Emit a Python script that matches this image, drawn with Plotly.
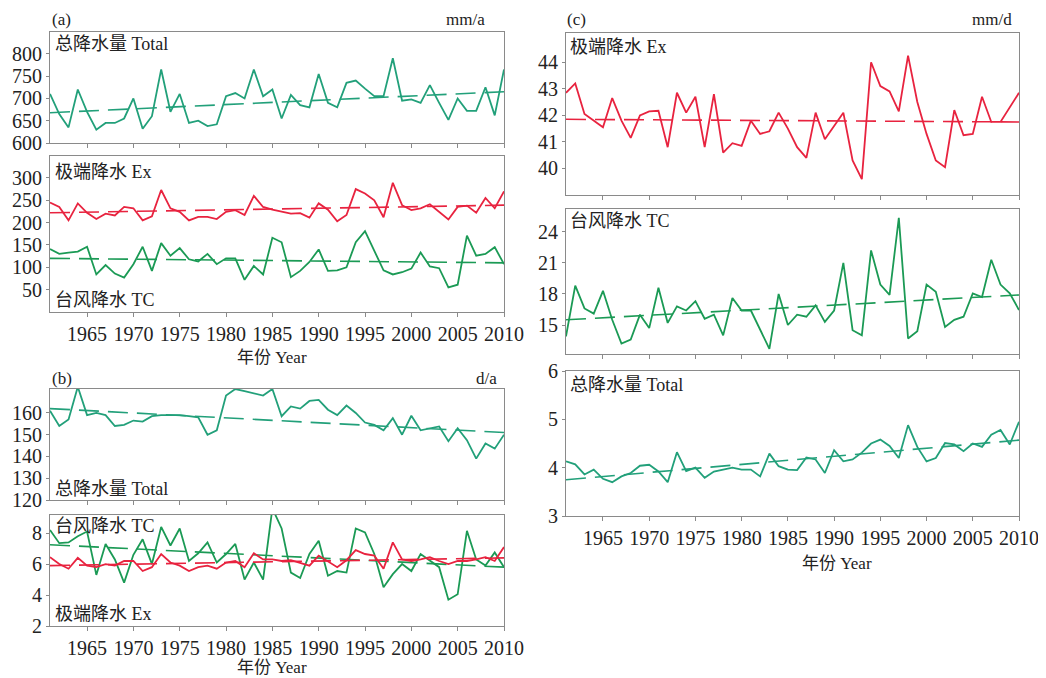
import plotly.graph_objects as go

years = list(range(1961, 2011))

# (a) precipitation amount, mm/a
a_total = [710, 665, 635, 720, 670, 630, 645, 645, 655, 700,
           632, 660, 765, 670, 710, 645, 650, 638, 642, 705,
           712, 700, 765, 705, 720, 655, 708, 685, 680, 755,
           690, 680, 735, 740, 722, 705, 705, 790, 695, 698,
           690, 730, 690, 652, 700, 672, 672, 725, 662, 765]
a_ex = [245, 235, 205, 243, 222, 208, 220, 216, 235, 232,
        205, 214, 273, 232, 224, 205, 213, 213, 208, 224,
        228, 217, 260, 235, 229, 224, 220, 221, 211, 243,
        229, 203, 217, 275, 265, 250, 212, 289, 239, 228,
        232, 241, 224, 207, 235, 238, 222, 255, 232, 270]
a_tc = [141, 130, 133, 135, 146, 84, 105, 86, 77, 107,
        146, 92, 154, 126, 143, 118, 113, 130, 107, 120,
        120, 72, 103, 84, 166, 156, 78, 92, 112, 140,
        92, 93, 100, 156, 181, 137, 93, 84, 89, 97,
        133, 102, 98, 55, 61, 171, 126, 130, 145, 107]
a_total_trend = [668, 715]
a_ex_trend = [222, 239]
a_tc_trend = [120, 110]

# (b) precipitation days, d/a
b_total = [161, 154, 157, 172, 159, 160, 159, 154, 154.5, 156.5,
           156, 158.5, 159, 159, 159, 158.5, 158, 150, 152, 168,
           171, 170, 169, 168, 171, 158.5, 163, 162, 165.5, 166,
           161.5, 159, 163.4, 160, 155.6, 154.5, 152, 157.6, 150, 158.7,
           152, 153, 153.8, 147, 153, 147.5, 139, 146, 143.6, 150]
b_tc = [8.2, 7.35, 7.4, 7.8, 8.1, 5.3, 7.3, 6.3, 4.8, 6.6,
        7.6, 6.0, 8.4, 7.2, 8.3, 6.2, 6.7, 7.4, 6.1, 6.65,
        7.3, 5.0, 6.1, 5.0, 9.6, 8.3, 5.45, 5.1, 6.65, 7.5,
        5.25, 5.55, 5.45, 8.3, 8.05, 6.65, 4.5, 5.35, 6.0, 5.55,
        6.65, 6.2, 5.8, 3.7, 4.05, 8.15, 6.3, 5.9, 6.75, 5.8]
b_ex = [6.45, 6.0, 5.7, 6.4, 5.9, 5.8, 6.0, 5.9, 6.2, 6.2,
        5.55, 5.8, 6.65, 6.1, 5.9, 5.55, 5.8, 5.9, 5.7, 6.1,
        6.2, 5.8, 6.7, 6.3, 6.3, 6.2, 6.25, 6.1, 5.9, 6.55,
        6.2, 5.8, 6.25, 6.9, 6.65, 6.55, 5.7, 7.4, 6.3, 6.2,
        6.3, 6.45, 6.2, 6.0, 6.2, 6.2, 6.3, 6.45, 6.2, 7.1]
b_total_trend = [162, 151]
b_tc_trend = [7.25, 5.8]
b_ex_trend = [5.9, 6.4]

# (c) precipitation intensity, mm/d
c_ex = [42.85, 43.2, 42.05, 41.8, 41.55, 42.65, 41.8, 41.15, 42.0, 42.15,
        42.17, 40.8, 42.85, 42.1, 42.7, 40.8, 42.8, 40.6, 40.95, 40.85,
        41.8, 41.3, 41.4, 42.1, 41.5, 40.8, 40.4, 42.1, 41.1, 41.6,
        42.1, 40.3, 39.6, 44.0, 43.1, 42.9, 42.15, 44.25, 42.5, 41.3,
        40.3, 40.05, 42.2, 41.25, 41.3, 42.7, 41.75, 41.75, 42.3, 42.85]
c_tc = [13.9, 18.8, 16.6, 16.1, 18.3, 15.5, 13.2, 13.6, 16.0, 14.7,
        18.6, 15.2, 16.8, 16.4, 17.3, 15.6, 16.0, 14.0, 17.6, 16.4,
        16.4, 14.5, 12.7, 18.0, 15.0, 16.0, 15.8, 16.9, 15.3, 16.4,
        21.0, 14.5, 14.0, 22.2, 18.9, 17.9, 25.35, 13.7, 14.4, 18.9,
        18.2, 14.8, 15.5, 15.8, 18.05, 17.7, 21.3, 18.9, 18.05, 16.45]
c_total = [4.13, 4.07, 3.86, 3.96, 3.77, 3.70, 3.82, 3.89, 4.04, 4.06,
           3.92, 3.70, 4.32, 3.93, 4.0, 3.79, 3.92, 3.96, 4.0, 3.96,
           3.96, 3.82, 4.29, 4.03, 3.96, 3.95, 4.21, 4.17, 3.89, 4.36,
           4.13, 4.17, 4.31, 4.5, 4.58, 4.45, 4.2, 4.88, 4.43, 4.13,
           4.2, 4.51, 4.48, 4.34, 4.5, 4.43, 4.68, 4.78, 4.48, 4.95]
c_ex_trend = [41.85, 41.75]
c_tc_trend = [15.5, 17.9]
c_total_trend = [3.75, 4.57]

x_ticks = [1965, 1970, 1975, 1980, 1985, 1990, 1995, 2000, 2005, 2010]

# the page body adds an 8px offset; size the figure so it fills the window
OFF = 8
W, H = 1046 - OFF, 678 - OFF
FONT = "Liberation Serif, 'Noto Sans CJK SC', serif"
TXT = "#222222"
GREEN_T = "#22a07a"
GREEN_C = "#1b9a55"
RED = "#e8233f"
FRAME = "#8a8a8a"


def px(x):
    return (x - OFF) / W


def py(y):
    return 1 - (y - OFF) / H


fig = go.Figure()

# panel definitions: (xdom px, ydom px, yrange, ytickvals, show x labels)
panels = [
    ((50, 504), (32, 143), [600, 849], [600, 650, 700, 750, 800], False),
    ((50, 504), (156, 312), [0, 349], [50, 100, 150, 200, 250, 300], True),
    ((50, 504), (389, 500), [120, 171], [120, 130, 140, 150, 160], False),
    ((50, 504), (515, 626), [2, 9.17], [2, 4, 6, 8], True),
    ((566, 1019), (33, 195), [39, 45.1], [40, 41, 42, 43, 44], False),
    ((566, 1019), (209, 354), [12.2, 26.2], [15, 18, 21, 24], False),
    ((566, 1019), (371, 516), [3, 6], [3, 4, 5, 6], True),
]

layout = {}
for i, (xd, yd, yr, yt, showx) in enumerate(panels, start=1):
    sfx = "" if i == 1 else str(i)
    layout["xaxis" + sfx] = dict(
        domain=[px(xd[0]), px(xd[1])], anchor="y" + sfx, range=[1961, 2010],
        tickmode="array", tickvals=x_ticks, ticktext=[str(t) for t in x_ticks],
        showticklabels=showx, ticks="outside", ticklen=4, tickcolor=FRAME,
        tickangle=0, showgrid=False, zeroline=False, showline=True,
        linecolor=FRAME, linewidth=1, mirror=True, automargin=False,
        tickfont=dict(family=FONT, size=20, color=TXT),
    )
    layout["yaxis" + sfx] = dict(
        domain=[py(yd[1]), py(yd[0])], anchor="x" + sfx, range=yr,
        tickmode="array", tickvals=yt, ticks="outside", ticklen=3,
        tickcolor=FRAME, showgrid=False, zeroline=False, showline=True,
        linecolor=FRAME, linewidth=1, mirror=True, automargin=False,
        tickfont=dict(family=FONT, size=20, color=TXT),
    )


def add_series(i, vals, trend, color):
    sfx = "" if i == 1 else str(i)
    fig.add_trace(go.Scatter(x=years, y=vals, mode="lines",
                             line=dict(color=color, width=1.8),
                             xaxis="x" + sfx, yaxis="y" + sfx, showlegend=False))
    fig.add_trace(go.Scatter(x=[years[0], years[-1]], y=trend, mode="lines",
                             line=dict(color=color, width=1.6, dash="20px,9px"),
                             xaxis="x" + sfx, yaxis="y" + sfx, showlegend=False))


add_series(1, a_total, a_total_trend, GREEN_T)
add_series(2, a_tc, a_tc_trend, GREEN_C)
add_series(2, a_ex, a_ex_trend, RED)
add_series(3, b_total, b_total_trend, GREEN_T)
add_series(4, b_tc, b_tc_trend, GREEN_C)
add_series(4, b_ex, b_ex_trend, RED)
add_series(5, c_ex, c_ex_trend, RED)
add_series(6, c_tc, c_tc_trend, GREEN_C)
add_series(7, c_total, c_total_trend, GREEN_T)

ann = []


def label(text, x, y, size=18, xanchor="left"):
    ann.append(dict(text=text, x=px(x), y=py(y), xref="paper", yref="paper",
                    xanchor=xanchor, yanchor="middle", showarrow=False,
                    borderpad=0,
                    font=dict(family=FONT, size=size, color=TXT)))


label("(a)", 51, 20, size=17)
label("mm/a", 486, 20, size=17, xanchor="right")
label("(b)", 51, 378, size=17)
label("d/a", 498, 378, size=17, xanchor="right")
label("(c)", 566, 20, size=17)
label("mm/d", 1013, 20, size=17, xanchor="right")

label("总降水量 Total", 54, 44)
label("极端降水 Ex", 54, 172)
label("台风降水 TC", 54, 300)
label("总降水量 Total", 54, 489)
label("台风降水 TC", 54, 526)
label("极端降水 Ex", 54, 614)
label("极端降水 Ex", 569, 47)
label("台风降水 TC", 569, 221)
label("总降水量 Total", 569, 385)

label("年份 Year", 272, 357, size=17, xanchor="center")
label("年份 Year", 272, 667, size=17, xanchor="center")
label("年份 Year", 837, 563, size=17, xanchor="center")

fig.update_layout(
    width=W, height=H, margin=dict(l=0, r=0, t=0, b=0, autoexpand=False),
    paper_bgcolor="white", plot_bgcolor="white",
    annotations=ann, showlegend=False, **layout,
)

fig.write_html("out.html")
